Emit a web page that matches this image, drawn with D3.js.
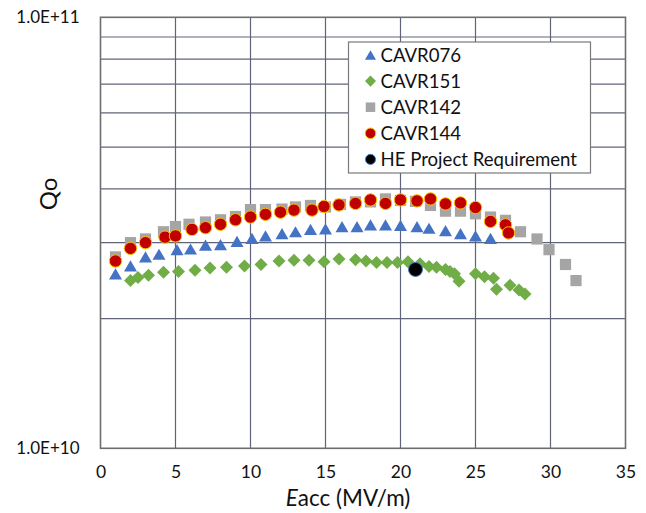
<!DOCTYPE html>
<html>
<head>
<meta charset="utf-8">
<script src="https://cdn.jsdelivr.net/npm/d3@7"></script>
<style>
  html, body { margin: 0; padding: 0; background: #fff; }
  svg { display: block; font-family: Lato, "Liberation Sans", sans-serif; }
</style>
</head>
<body>
<div id="graph"></div>
<script>
!(function(){
    "use strict"

    var width = 646;
    var height = 513;

    // series data, Eacc in MV/m, Qo
    var cavr076Eacc = [1.0,2.0,3.0,3.9,5.1,6.0,7.0,8.0,9.1,10.1,11.0,12.1,13.0,14.0,15.0,16.1,17.1,18.0,19.0,20.0,21.1,21.9,23.0,24.0,25.0,26.0];
    var cavr076Qo = [2.54e10,2.65e10,2.78e10,2.82e10,2.89e10,2.90e10,2.96e10,2.97e10,3.02e10,3.07e10,3.11e10,3.15e10,3.18e10,3.22e10,3.23e10,3.27e10,3.27e10,3.30e10,3.30e10,3.29e10,3.27e10,3.24e10,3.20e10,3.15e10,3.11e10,3.07e10];

    var cavr151Eacc = [2.0,2.5,3.2,4.2,5.2,6.3,7.3,8.4,9.6,10.7,11.9,12.9,13.9,14.9,15.9,17.0,17.7,18.4,19.1,19.8,20.5,21.3,21.9,22.4,23.0,23.3,23.6,23.9,25.0,25.6,26.2,26.4,27.3,27.9,28.3];
    var cavr151Qo = [2.45e10,2.49e10,2.52e10,2.56e10,2.57e10,2.59e10,2.62e10,2.63e10,2.65e10,2.67e10,2.72e10,2.73e10,2.73e10,2.71e10,2.75e10,2.74e10,2.72e10,2.70e10,2.70e10,2.70e10,2.71e10,2.68e10,2.64e10,2.63e10,2.60e10,2.57e10,2.54e10,2.44e10,2.54e10,2.50e10,2.48e10,2.34e10,2.39e10,2.33e10,2.28e10];

    var cavr142Eacc = [1.0,2.0,3.0,4.2,5.0,5.9,7.0,8.0,9.0,10.0,11.0,12.1,13.0,14.0,15.0,16.0,17.0,18.0,19.0,20.0,21.0,22.0,23.0,24.0,25.0,26.0,27.0,28.0,29.1,29.9,31.0,31.7];
    var cavr142Qo = [2.78e10,3.00e10,3.06e10,3.18e10,3.27e10,3.31e10,3.35e10,3.39e10,3.45e10,3.58e10,3.58e10,3.59e10,3.63e10,3.66e10,3.63e10,3.68e10,3.73e10,3.73e10,3.79e10,3.76e10,3.74e10,3.66e10,3.55e10,3.55e10,3.50e10,3.44e10,3.38e10,3.18e10,3.06e10,2.89e10,2.67e10,2.45e10];

    var cavr144Eacc = [1.0,2.0,3.0,4.3,5.0,6.1,7.0,8.0,9.0,10.0,11.0,12.0,12.9,14.1,14.9,15.9,17.0,18.0,19.0,20.0,21.1,22.0,23.0,24.0,25.0,26.0,27.0,27.2];
    var cavr144Qo = [2.72e10,2.91e10,3.00e10,3.09e10,3.11e10,3.22e10,3.25e10,3.31e10,3.39e10,3.44e10,3.49e10,3.53e10,3.57e10,3.57e10,3.64e10,3.67e10,3.70e10,3.77e10,3.70e10,3.77e10,3.75e10,3.79e10,3.69e10,3.71e10,3.62e10,3.36e10,3.30e10,3.16e10];

    var heEacc = [21.0];
    var heQo = [2.6e10];

    var xTicks = [0,5,10,15,20,25,30,35];
    var yTickValues = [1e10,1e11];
    var yTickLabels = ["1.0E+10","1.0E+11"];
    var yGridValues = [2e10,3e10,4e10,5e10,6e10,7e10,8e10,9e10];

    var seriesNames = ["CAVR076","CAVR151","CAVR142","CAVR144","HE Project Requirement"];

    function zip(xs, ys) {
        return xs.map(function(x, i){ return {x: x, y: ys[i]}; });
    }

    // drawing order as in the spreadsheet: later series on top
    var series = [
        {name: seriesNames[0], data: zip(cavr076Eacc, cavr076Qo), shape: "triangle", fill: "#4472c4", stroke: "none"},
        {name: seriesNames[1], data: zip(cavr151Eacc, cavr151Qo), shape: "diamond", fill: "#70ad47", stroke: "none"},
        {name: seriesNames[2], data: zip(cavr142Eacc, cavr142Qo), shape: "square", fill: "#a5a5a5", stroke: "none"},
        {name: seriesNames[3], data: zip(cavr144Eacc, cavr144Qo), shape: "circle", fill: "#c00000", stroke: "#ffc000"},
        {name: seriesNames[4], data: zip(heEacc, heQo), shape: "bigcircle", fill: "#000000", stroke: "#4a78c8"}
    ];

    var left = 100.5, right = 625.5, top = 17.3, bottom = 448.3;

    var x = d3.scaleLinear().domain([0, 35]).range([left, right]);
    var y = d3.scaleLog().domain([1e10, 1e11]).range([bottom, top]);

    var svg = d3.select('#graph')
        .append('svg')
        .attr("width", width)
        .attr("height", height)
    ;

    // marker shapes, k scales them down for the legend
    function shapePath(shape, k) {
        k = k || 1;
        if (shape === "triangle") {
            var w = 6.5 * k, h = 5.6 * k;
            return "M0," + (-h) + "L" + w + "," + h + "L" + (-w) + "," + h + "Z";
        }
        if (shape === "diamond") {
            var r = 6.5 * k;
            return "M0," + (-r) + "L" + r + ",0L0," + r + "L" + (-r) + ",0Z";
        }
        if (shape === "square") {
            var s = 5.6 * k;
            return "M" + (-s) + "," + (-s) + "H" + s + "V" + s + "H" + (-s) + "Z";
        }
        var rr = (shape === "bigcircle" ? 7 : 6.2) * k;
        return d3.symbol().type(d3.symbolCircle).size(Math.PI * rr * rr)();
    }

    var grid = svg.append("g").attr("class", "grid");

    grid.selectAll("line.h")
        .data(yGridValues)
        .enter().append("line")
        .attr("class", "h")
        .attr("x1", left).attr("x2", right)
        .attr("y1", function(d){ return y(d); })
        .attr("y2", function(d){ return y(d); })
        .attr("stroke", "#5f6478")
        .attr("stroke-width", 1.2);

    grid.selectAll("line.v")
        .data(xTicks.slice(1, -1))
        .enter().append("line")
        .attr("class", "v")
        .attr("y1", top).attr("y2", bottom)
        .attr("x1", function(d){ return x(d); })
        .attr("x2", function(d){ return x(d); })
        .attr("stroke", "#5f6478")
        .attr("stroke-width", 1.2);

    // plot frame
    svg.append("rect")
        .attr("x", left).attr("y", top)
        .attr("width", right - left).attr("height", bottom - top)
        .attr("fill", "none")
        .attr("stroke", "#6e6e6e")
        .attr("stroke-width", 1.6);

    // axes text
    var xAxis = d3.axisBottom(x).tickValues(xTicks).tickSize(0).tickPadding(17);
    svg.append("g")
        .attr("transform", "translate(0," + bottom + ")")
        .call(xAxis)
        .call(function(g){ g.select(".domain").remove(); })
        .selectAll("text")
        .attr("font-family", "Lato, sans-serif")
        .attr("font-size", 17.5)
        .attr("fill", "#111");

    var yAxis = d3.axisLeft(y).tickValues(yTickValues)
        .tickFormat(function(d, i){ return yTickLabels[i]; })
        .tickSize(0).tickPadding(21);
    svg.append("g")
        .attr("transform", "translate(" + left + ",0)")
        .call(yAxis)
        .call(function(g){ g.select(".domain").remove(); })
        .selectAll("text")
        .attr("font-family", "Lato, sans-serif")
        .attr("font-size", 17)
        .attr("fill", "#111");

    var xTitle = svg.append("text")
        .attr("x", 348)
        .attr("y", 506)
        .attr("text-anchor", "middle")
        .attr("font-size", 22.5)
        .attr("fill", "#111");
    xTitle.append("tspan").attr("font-style", "italic").text("E");
    xTitle.append("tspan").text("acc (MV/m)");

    svg.append("text")
        .attr("transform", "translate(57,194) rotate(-90)")
        .attr("text-anchor", "middle")
        .attr("font-size", 24)
        .attr("fill", "#111")
        .text("Qo");

    // points
    series.forEach(function(s) {
        svg.append("g")
            .selectAll("path")
            .data(s.data)
            .enter().append("path")
            .attr("transform", function(d){ return "translate(" + x(d.x) + "," + y(d.y) + ")"; })
            .attr("d", shapePath(s.shape))
            .attr("fill", s.fill)
            .attr("stroke", s.stroke)
            .attr("stroke-width", s.stroke === "none" ? 0 : 1);
    });

    // legend
    var legend = svg.append("g").attr("transform", "translate(348.5,42)");
    legend.append("rect")
        .attr("width", 242).attr("height", 131)
        .attr("fill", "#fff")
        .attr("stroke", "#7a7a7a")
        .attr("stroke-width", 1.2);

    var item = legend.selectAll("g.item")
        .data(series)
        .enter().append("g")
        .attr("class", "item")
        .attr("transform", function(d, i){ return "translate(0," + (13 + i * 26.1) + ")"; });

    item.append("path")
        .attr("transform", "translate(22,0)")
        .attr("d", function(d){ return shapePath(d.shape, d.shape === "bigcircle" ? 0.72 : 0.85); })
        .attr("fill", function(d){ return d.fill; })
        .attr("stroke", function(d){ return d.stroke; })
        .attr("stroke-width", function(d){ return d.stroke === "none" ? 0 : 1; });

    item.append("text")
        .attr("x", 32)
        .attr("dy", "0.35em")
        .attr("font-size", 18.6)
        .attr("fill", "#111")
        .text(function(d){ return d.name; });

}());
</script>
</body>
</html>
